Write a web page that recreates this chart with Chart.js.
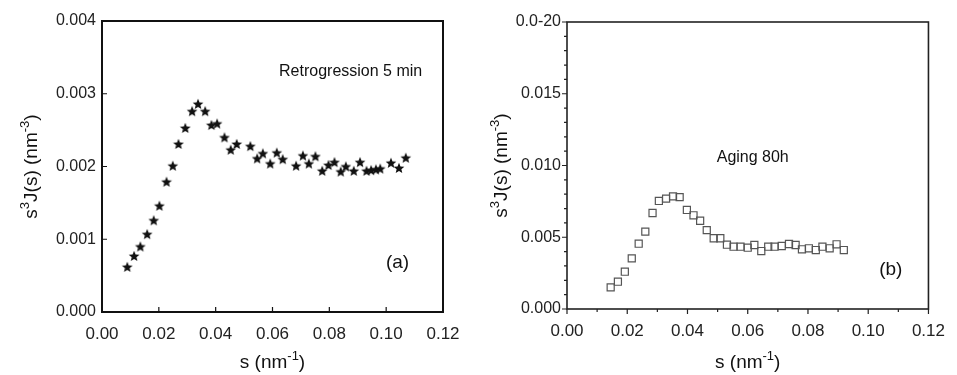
<!DOCTYPE html>
<html>
<head>
<meta charset="utf-8">
<script src="https://cdn.jsdelivr.net/npm/chart.js@4.4.0/dist/chart.umd.min.js"></script>
<style>
body { margin: 0; background: #fff; }
.pannello { position: absolute; top: 0; height: 375px; }
#pa { left: 0; width: 478px; }
#pb { left: 478px; width: 479px; }
</style>
</head>
<body>
<div class="pannello" id="pa"><canvas id="graficoA"></canvas></div>
<div class="pannello" id="pb"><canvas id="graficoB"></canvas></div>
<script>
// dati (a) Retrogression 5 min
var s_a = [0.0089, 0.0113, 0.0135, 0.0159, 0.0182, 0.0202, 0.0227, 0.0249, 0.0269, 0.0293,
           0.0317, 0.0338, 0.0363, 0.0385, 0.0405, 0.0431, 0.0453, 0.0474, 0.0522, 0.0546,
           0.0566, 0.0592, 0.0615, 0.0636, 0.0683, 0.0707, 0.0728, 0.0751, 0.0775, 0.0797,
           0.0818, 0.0840, 0.0858, 0.0886, 0.0908, 0.0931, 0.0947, 0.0964, 0.0979, 0.1017,
           0.1045, 0.1069];
var j_a = [0.00062, 0.00077, 0.00090, 0.00107, 0.00126, 0.00146, 0.00179, 0.00201, 0.00231, 0.00253,
           0.00276, 0.00286, 0.00276, 0.00257, 0.00259, 0.00240, 0.00223, 0.00231, 0.00228, 0.00211,
           0.00218, 0.00204, 0.00219, 0.00210, 0.00201, 0.00215, 0.00204, 0.00214, 0.00194, 0.00202,
           0.00206, 0.00193, 0.00200, 0.00194, 0.00206, 0.00194, 0.00195, 0.00196, 0.00197, 0.00205,
           0.00198, 0.00212];
// dati (b) Aging 80h
var s_b = [0.0145, 0.0169, 0.0192, 0.0215, 0.0238, 0.0260, 0.0284, 0.0305, 0.0329, 0.0352,
           0.0374, 0.0398, 0.0420, 0.0442, 0.0464, 0.0487, 0.0509, 0.0531, 0.0553, 0.0576,
           0.0600, 0.0622, 0.0645, 0.0668, 0.0689, 0.0713, 0.0737, 0.0759, 0.0780, 0.0803,
           0.0826, 0.0848, 0.0872, 0.0895, 0.0919];
var j_b = [0.00151, 0.00190, 0.00260, 0.00353, 0.00455, 0.00539, 0.00669, 0.00753, 0.00769, 0.00785,
           0.00780, 0.00690, 0.00653, 0.00615, 0.00550, 0.00493, 0.00493, 0.00448, 0.00434, 0.00434,
           0.00427, 0.00446, 0.00404, 0.00434, 0.00434, 0.00439, 0.00453, 0.00446, 0.00416, 0.00423,
           0.00411, 0.00434, 0.00423, 0.00451, 0.00411];
// etichette degli assi
var etichette_x = ['0.00', '0.02', '0.04', '0.06', '0.08', '0.10', '0.12'];
var etichette_y_a = ['0.000', '0.001', '0.002', '0.003', '0.004'];
var etichette_y_b = ['0.000', '0.005', '0.010', '0.015', '0.0-20'];
// titoli degli assi: [testo, apice?]
var titolo_x = [['s (nm', false], ['-1', true], [')', false]];
var titolo_y = [['s', false], ['3', true], ['J(s) (nm', false], ['-3', true], [')', false]];

var FONT = '"Liberation Sans", Arial, sans-serif';

function coppie(xs, ys) {
    var out = [];
    for (var i = 0; i < xs.length; i++) {
        out.push({ x: xs[i], y: ys[i] });
    }
    return out;
}

// stellina piena disegnata su un canvas a parte
function crea_stella() {
    var c = document.createElement('canvas');
    c.width = 12; c.height = 12;
    var g = c.getContext('2d');
    g.fillStyle = '#111';
    g.beginPath();
    for (var k = 0; k < 10; k++) {
        var r = (k % 2 === 0) ? 5.6 : 2.5;
        var ang = -Math.PI / 2 + k * Math.PI / 5;
        var px = 6 + r * Math.cos(ang), py = 6.4 + r * Math.sin(ang);
        if (k === 0) g.moveTo(px, py); else g.lineTo(px, py);
    }
    g.closePath();
    g.fill();
    return c;
}

// scrive un titolo con gli apici, centrato su (0,0) del contesto
function scrivi_titolo(ctx, pezzi) {
    var totale = 0;
    pezzi.forEach(function(p) {
        ctx.font = (p[1] ? 13 : 19) + 'px ' + FONT;
        totale += ctx.measureText(p[0]).width;
    });
    var x = -totale / 2;
    pezzi.forEach(function(p) {
        ctx.font = (p[1] ? 13 : 19) + 'px ' + FONT;
        ctx.fillText(p[0], x, p[1] ? -8 : 0);
        x += ctx.measureText(p[0]).width;
    });
}

// cornice + tacche degli assi + titoli
var cornice = {
    id: 'cornice',
    afterDraw: function(chart, args, opts) {
        var ctx = chart.ctx, a = chart.chartArea;
        var sx = chart.scales.x, sy = chart.scales.y;
        var dir = opts.dentro ? -1 : 1;
        ctx.save();
        ctx.strokeStyle = opts.colore;
        ctx.lineWidth = opts.spessore;
        ctx.strokeRect(a.left, a.top, a.right - a.left, a.bottom - a.top);
        ctx.lineWidth = 1.2;
        ctx.beginPath();
        sx.ticks.forEach(function(t) {
            var p = sx.getPixelForValue(t.value);
            ctx.moveTo(p, a.bottom); ctx.lineTo(p, a.bottom + dir * 5);
        });
        sy.ticks.forEach(function(t) {
            var p = sy.getPixelForValue(t.value);
            ctx.moveTo(a.left, p); ctx.lineTo(a.left - dir * 5, p);
        });
        if (opts.minoreX) {
            for (var v = 0; v <= sx.max + 1e-9; v += opts.minoreX) {
                var p = sx.getPixelForValue(v);
                ctx.moveTo(p, a.bottom); ctx.lineTo(p, a.bottom + dir * 3);
            }
        }
        if (opts.minoreY) {
            for (var w = 0; w <= sy.max + 1e-9; w += opts.minoreY) {
                var q = sy.getPixelForValue(w);
                ctx.moveTo(a.left, q); ctx.lineTo(a.left - dir * 3, q);
            }
        }
        ctx.stroke();
        ctx.fillStyle = '#111';
        // scritte dentro il grafico
        (opts.testi || []).forEach(function(t) {
            ctx.font = t.size + 'px ' + FONT;
            ctx.textAlign = t.align;
            ctx.textBaseline = 'middle';
            ctx.fillText(t.t, sx.getPixelForValue(t.s), sy.getPixelForValue(t.j));
        });
        // titoli assi
        ctx.textAlign = 'left';
        ctx.textBaseline = 'alphabetic';
        ctx.save();
        ctx.translate((a.left + a.right) / 2, opts.baseX);
        scrivi_titolo(ctx, titolo_x);
        ctx.restore();
        ctx.save();
        ctx.translate(opts.baseY, (a.top + a.bottom) / 2);
        ctx.rotate(-Math.PI / 2);
        scrivi_titolo(ctx, titolo_y);
        ctx.restore();
        ctx.restore();
    }
};

function opzioni(cfg) {
    return {
        responsive: true,
        maintainAspectRatio: false,
        animation: false,
        layout: { padding: cfg.padding },
        plugins: {
            legend: { display: false },
            tooltip: { enabled: false },
            cornice: cfg.cornice
        },
        scales: {
            x: {
                type: 'linear', min: 0, max: 0.12,
                afterFit: function(scale) { scale.height = cfg.altezzaX; },
                afterBuildTicks: function(scale) {
                    scale.ticks = etichette_x.map(function(e) { return { value: parseFloat(e) }; });
                },
                grid: { display: false, drawTicks: false, tickLength: 0 },
                border: { display: false },
                ticks: {
                    padding: 12, color: '#222', maxRotation: 0, autoSkip: false,
                    font: { family: FONT, size: 17 },
                    callback: function(v, i) { return etichette_x[i]; }
                }
            },
            y: {
                type: 'linear', min: 0, max: cfg.maxY,
                afterFit: function(scale) { scale.width = cfg.larghezzaY; },
                afterBuildTicks: function(scale) {
                    scale.ticks = cfg.etichetteY.map(function(e, i) { return { value: i * cfg.passoY }; });
                },
                grid: { display: false, drawTicks: false, tickLength: 0 },
                border: { display: false },
                ticks: {
                    padding: 6, color: '#222', autoSkip: false,
                    font: { family: FONT, size: 16 },
                    callback: function(v, i) { return cfg.etichetteY[i]; }
                }
            }
        }
    };
}

new Chart(document.getElementById('graficoA'), {
    type: 'scatter',
    data: {
        datasets: [{
            data: coppie(s_a, j_a),
            pointStyle: crea_stella(),
            pointRadius: 5
        }]
    },
    options: opzioni({
        padding: { left: 0, right: 35, top: 21, bottom: 0 },
        altezzaX: 63, larghezzaY: 102, maxY: 0.004, passoY: 0.001,
        etichetteY: etichette_y_a,
        cornice: {
            colore: '#111', spessore: 2, dentro: true,
            baseX: 368, baseY: 37,
            testi: [
                { t: 'Retrogression 5 min', s: 0.0623, j: 0.00331, size: 16, align: 'left' },
                { t: '(a)', s: 0.104, j: 0.00067, size: 19, align: 'center' }
            ]
        }
    }),
    plugins: [cornice]
});

new Chart(document.getElementById('graficoB'), {
    type: 'scatter',
    data: {
        datasets: [{
            data: coppie(s_b, j_b),
            pointStyle: 'rect',
            pointRadius: 5,
            borderColor: '#555',
            borderWidth: 1.2,
            backgroundColor: 'rgba(255,255,255,0)'
        }]
    },
    options: opzioni({
        padding: { left: 0, right: 20, top: 22, bottom: 0 },
        altezzaX: 66, larghezzaY: 89, maxY: 0.02, passoY: 0.005,
        etichetteY: etichette_y_b,
        cornice: {
            colore: '#222', spessore: 1.6, dentro: false,
            minoreX: 0.01, minoreY: 0.001,
            baseX: 368, baseY: 29,
            testi: [
                { t: 'Aging 80h', s: 0.0497, j: 0.01052, size: 16, align: 'left' },
                { t: '(b)', s: 0.1075, j: 0.00272, size: 19, align: 'center' }
            ]
        }
    }),
    plugins: [cornice]
});
</script>
</body>
</html>
